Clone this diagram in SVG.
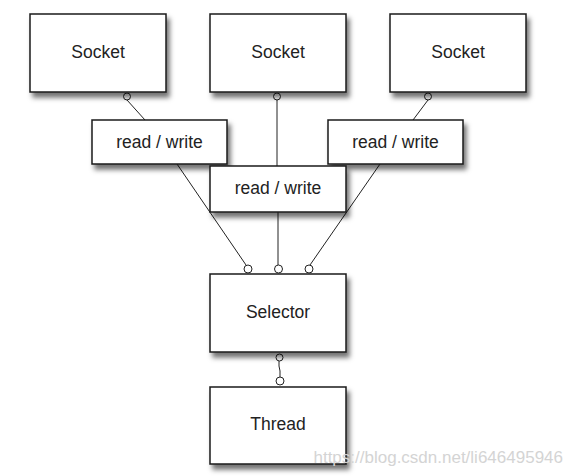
<svg xmlns="http://www.w3.org/2000/svg" width="572" height="476" viewBox="0 0 572 476">
<defs>
<filter id="sh" x="-20%" y="-20%" width="150%" height="160%">
<feDropShadow dx="3" dy="5" stdDeviation="2.8" flood-color="#000" flood-opacity="0.55"/>
</filter>
</defs>
<style>
.box{fill:#fff;stroke:#1a1a1a;stroke-width:1.5;filter:url(#sh)}
.lbl{font-family:"Liberation Sans",Arial,sans-serif;font-size:17.5px;fill:#222;text-anchor:middle}
.ln{stroke:#222;stroke-width:1;fill:none}
.end{fill:#fff;stroke:#222;stroke-width:1}
.wm{font-family:"Liberation Sans",Arial,sans-serif;font-size:17px;fill:#d4d4d4;text-anchor:end}
</style>
<rect width="572" height="476" fill="#fff"/>
<g id="connectors">
<line class="ln" x1="127" y1="100" x2="145" y2="120"/>
<line class="ln" x1="177" y1="164" x2="246" y2="265"/>
<line class="ln" x1="277" y1="100" x2="277" y2="166"/>
<line class="ln" x1="278" y1="212" x2="278" y2="265"/>
<line class="ln" x1="428" y1="100" x2="413" y2="120"/>
<line class="ln" x1="380" y1="164" x2="310" y2="265"/>
<polyline class="ln" points="279,361 279,366 280,371 280,377"/>
<circle class="end" cx="127" cy="96.5" r="3.5"/>
<circle class="end" cx="277" cy="96.5" r="3.5"/>
<circle class="end" cx="428" cy="96.5" r="3.5"/>
<circle class="end" cx="248" cy="269" r="4"/>
<circle class="end" cx="278.5" cy="269" r="4"/>
<circle class="end" cx="309" cy="269" r="4"/>
<circle class="end" cx="279.5" cy="357.5" r="3.5"/>
<circle class="end" cx="280" cy="381" r="4"/>
</g>
<g id="socket1"><rect class="box" x="30" y="14" width="136" height="78"/><text class="lbl" x="98" y="58">Socket</text></g>
<g id="socket2"><rect class="box" x="210" y="14" width="136" height="78"/><text class="lbl" x="278" y="58">Socket</text></g>
<g id="socket3"><rect class="box" x="390" y="14" width="136" height="78"/><text class="lbl" x="458" y="58">Socket</text></g>
<g id="rw1"><rect class="box" x="92" y="120" width="135" height="44"/><text class="lbl" x="159.5" y="148">read / write</text></g>
<g id="rw3"><rect class="box" x="328" y="120" width="135" height="44"/><text class="lbl" x="395.5" y="148">read / write</text></g>
<g id="rw2"><rect class="box" x="210" y="166" width="136" height="46"/><text class="lbl" x="278" y="194">read / write</text></g>
<g id="selector"><rect class="box" x="210" y="274" width="136" height="78"/><text class="lbl" x="278" y="318">Selector</text></g>
<g id="thread"><rect class="box" x="210" y="387" width="136" height="77"/><text class="lbl" x="278" y="430">Thread</text></g>
<text class="wm" x="563" y="463">https://blog.csdn.net/li646495946</text>
</svg>
